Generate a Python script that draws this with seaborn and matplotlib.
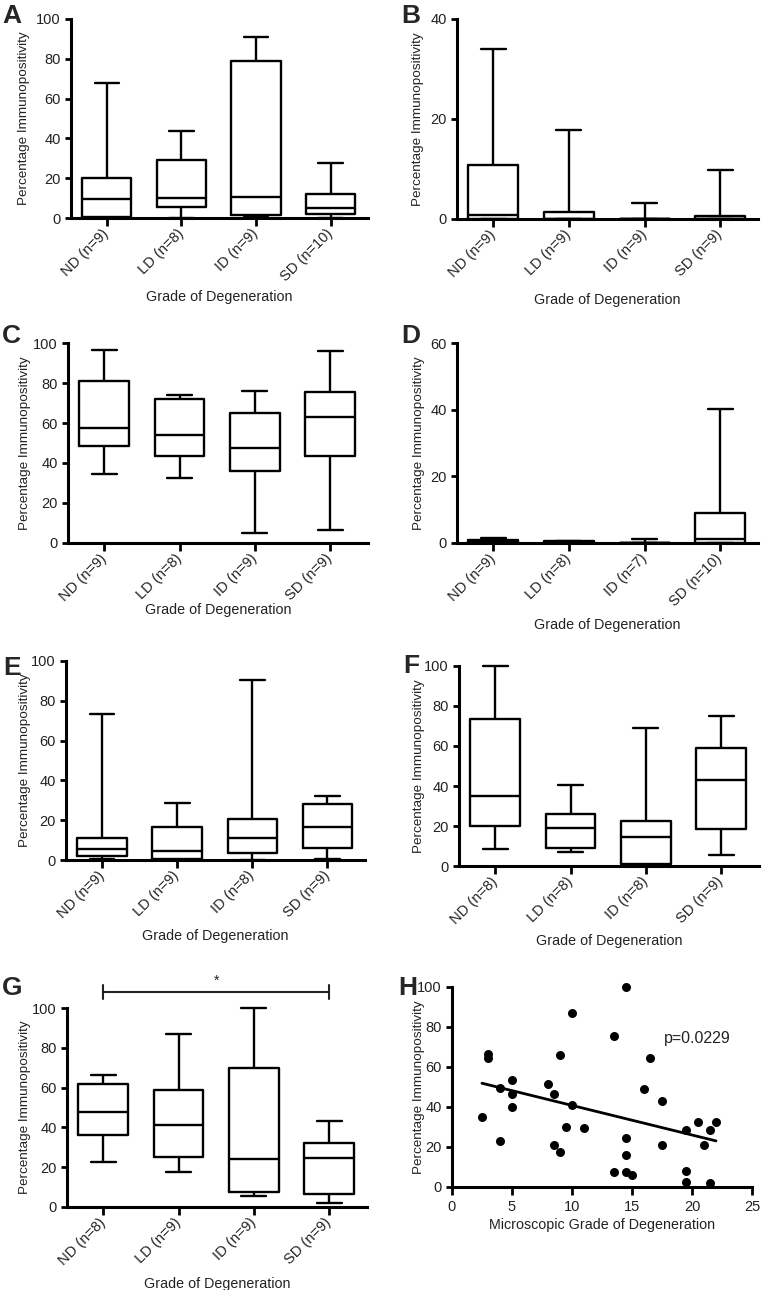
import numpy as np
import pandas as pd
import matplotlib
matplotlib.use('Agg')
import matplotlib.pyplot as plt
import seaborn as sns

# five-number summaries: [min, q1, median, q3, max] per grade
a_labels = ['ND (n=9)', 'LD (n=8)', 'ID (n=9)', 'SD (n=10)']
a_stats = [[0, 0.3, 9.5, 20.3, 67.7], [0, 5.5, 10.2, 29.3, 43.9],
           [0.8, 1.5, 10.8, 78.9, 91.0], [0, 1.8, 5.0, 12.1, 27.8]]

b_labels = ['ND (n=9)', 'LD (n=9)', 'ID (n=9)', 'SD (n=9)']
b_stats = [[0, 0, 0.8, 10.9, 34.1], [0, 0, 0, 1.4, 17.8],
           [0, 0, 0, 0, 3.3], [0, 0, 0, 0.7, 9.8]]

c_labels = ['ND (n=9)', 'LD (n=8)', 'ID (n=9)', 'SD (n=9)']
c_stats = [[34.3, 48.7, 57.7, 80.9, 96.7], [32.4, 43.5, 53.8, 71.9, 74.1],
           [5.2, 36.1, 47.5, 64.9, 75.8], [6.5, 43.3, 63.2, 75.4, 95.8]]

d_labels = ['ND (n=9)', 'LD (n=8)', 'ID (n=7)', 'SD (n=10)']
d_stats = [[0, 0, 0.5, 1.0, 1.5], [0, 0, 0.2, 0.5, 0.7],
           [0, 0, 0, 0, 1.3], [0, 0, 1.3, 8.9, 40.3]]

e_labels = ['ND (n=9)', 'LD (n=9)', 'ID (n=8)', 'SD (n=9)']
e_stats = [[0.7, 1.8, 5.3, 11.0, 73.3], [0, 0.3, 4.5, 16.4, 28.5],
           [0, 3.3, 11.2, 20.7, 90.7], [0.7, 6.2, 16.7, 28.2, 32.0]]

f_labels = ['ND (n=8)', 'LD (n=8)', 'ID (n=8)', 'SD (n=9)']
f_stats = [[8.5, 20.2, 35.0, 73.7, 100.0], [7.0, 9.0, 18.8, 26.2, 40.3],
           [0.5, 0.8, 14.7, 22.5, 69.0], [5.7, 18.5, 43.0, 58.8, 75.0]]

g_labels = ['ND (n=8)', 'LD (n=9)', 'ID (n=9)', 'SD (n=9)']
g_stats = [[22.6, 36.0, 47.8, 61.9, 66.2], [17.4, 25.1, 41.1, 58.7, 87.0],
           [5.7, 7.5, 24.1, 70.0, 100.0], [1.8, 6.4, 24.6, 32.3, 43.0]]

# panel H scatter
h_grade = [2.5, 3, 3, 4, 4, 5, 5, 5, 8, 8.5, 8.5, 9, 9, 9.5, 10, 10, 11,
           13.5, 13.5, 14.5, 14.5, 14.5, 14.5, 15, 16, 16.5, 17.5, 17.5,
           19.5, 19.5, 19.5, 20.5, 21, 21.5, 21.5, 22]
h_pct = [35, 66.3, 64.7, 49.5, 22.8, 53.7, 46.3, 40, 51.5, 46.3, 20.8, 66.2,
         17.5, 30.2, 87, 41.2, 29.7, 75.3, 7.5, 100, 24.5, 15.8, 7.5, 5.8,
         48.8, 64.7, 43.2, 21, 28.7, 8, 2.5, 32.7, 21, 28.7, 2, 32.7]

sns.set_style('ticks')
plt.rcParams['font.family'] = ['Liberation Sans', 'DejaVu Sans']

W, H = 762, 1290
fig = plt.figure(figsize=(W / 100, H / 100), dpi=100)


def add_axes(left, right, top, bottom):
    return fig.add_axes([left / W, 1 - bottom / H, (right - left) / W, (bottom - top) / H])


def style(ax, ylabx, xlaby):
    for s in ['left', 'bottom']:
        ax.spines[s].set_linewidth(2.2)
        ax.spines[s].set_color('black')
    sns.despine(ax=ax)
    ax.tick_params(axis='y', width=2, length=4, labelsize=10.5, colors='#222222')
    ax.tick_params(axis='x', width=2, length=6, labelsize=10.5, colors='#222222')
    ax.tick_params(color='black')
    ax.set_ylabel('Percentage Immunopositivity', fontsize=9.7, color='#222222')
    ax.yaxis.set_label_coords(ylabx, 0.5)
    ax.xaxis.set_label_coords(0.5, xlaby)


def box_panel(ax, labels, stats, ymax, yticks, ylabx, xlaby):
    rows = []
    for lab, st in zip(labels, stats):
        for v in st:
            rows.append({'grade': lab, 'value': v})
    df = pd.DataFrame(rows)
    sns.boxplot(data=df, x='grade', y='value', order=labels, whis=(0, 100),
                fill=False, color='black', linewidth=1.7, width=0.66, ax=ax)
    for art in ax.lines + ax.patches:
        art.set_clip_on(False)
    ax.set_xlim(-0.48, 3.5)
    ax.set_ylim(0, ymax)
    ax.set_yticks(yticks)
    ax.set_xticks(range(4))
    ax.set_xticklabels(labels, rotation=45, ha='right', va='center', rotation_mode='anchor')
    ax.set_xlabel('Grade of Degeneration', fontsize=10.3, color='#222222')
    style(ax, ylabx, xlaby)


axA = add_axes(71, 368, 19, 218)
box_panel(axA, a_labels, a_stats, 100, range(0, 101, 20), -0.138, -0.362)
axB = add_axes(457, 758, 19, 219)
box_panel(axB, b_labels, b_stats, 40, [0, 20, 40], -0.11, -0.37)
axC = add_axes(68, 368, 343, 543)
box_panel(axC, c_labels, c_stats, 100, range(0, 101, 20), -0.123, -0.30)
axD = add_axes(457, 758, 343, 543)
box_panel(axD, d_labels, d_stats, 60, [0, 20, 40, 60], -0.106, -0.375)
axE = add_axes(66, 365, 661, 860)
box_panel(axE, e_labels, e_stats, 100, range(0, 101, 20), -0.117, -0.345)
axF = add_axes(459, 759, 666, 866)
box_panel(axF, f_labels, f_stats, 100, range(0, 101, 20), -0.113, -0.34)
axG = add_axes(67, 367, 1008, 1207)
box_panel(axG, g_labels, g_stats, 100, range(0, 101, 20), -0.12, -0.35)

# significance bar ND vs SD
axG.plot([0, 3], [108, 108], color='#222222', lw=1.5, clip_on=False)
for xx in [0, 3]:
    axG.plot([xx, xx], [104.5, 111.5], color='#222222', lw=1.5, clip_on=False)
axG.text(1.5, 110, '*', ha='center', va='bottom', fontsize=10)

axH = add_axes(452, 752, 987, 1187)
sns.regplot(x=h_grade, y=h_pct, ci=None, color='black', ax=axH,
            scatter_kws={'s': 42, 'clip_on': False, 'linewidths': 0, 'alpha': 1},
            line_kws={'lw': 2})
axH.set_xlim(0, 25)
axH.set_ylim(0, 100)
axH.set_xticks(range(0, 26, 5))
axH.set_yticks(range(0, 101, 20))
axH.set_xlabel('Microscopic Grade of Degeneration', fontsize=10.3, color='#222222')
axH.text(17.7, 74.5, 'p=0.0229', fontsize=11.5, va='center', color='#222222')
style(axH, -0.09, -0.155)

letters = [('A', 2, 23), ('B', 401, 23), ('C', 2, 343), ('D', 401, 343),
           ('E', 3, 675), ('F', 403, 673), ('G', 2, 995), ('H', 398, 995)]
for t, x, y in letters:
    fig.text(x / W, 1 - y / H, t, fontsize=19, fontweight='bold', va='baseline')

fig.savefig('out.png', dpi=100)
